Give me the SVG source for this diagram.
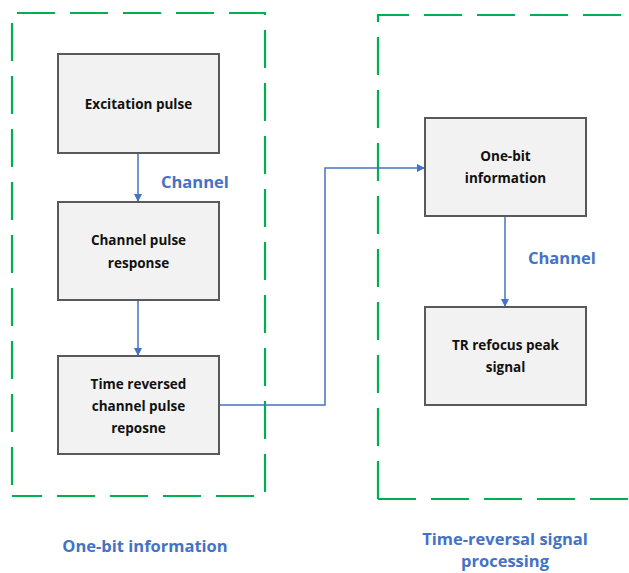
<svg xmlns="http://www.w3.org/2000/svg" width="629" height="573" viewBox="0 0 629 573">
<style>
.grp{fill:none;stroke:#00B050;stroke-width:2.2;stroke-dasharray:38 15}
.node rect{fill:#F2F2F2;stroke:#595959;stroke-width:2}
.node text{font-family:"Open Sans","Liberation Sans",sans-serif;font-weight:bold;font-size:13.5px;fill:#111;text-anchor:middle}
.lbl{font-family:"Open Sans","Liberation Sans",sans-serif;font-weight:bold;font-size:16.5px;fill:#4472C4}
.conn{fill:none;stroke:#4472C4;stroke-width:1.5}
</style>
<defs>
<marker id="ah" viewBox="0 0 10 10" refX="10" refY="5" markerWidth="8" markerHeight="8" markerUnits="userSpaceOnUse" orient="auto">
<path d="M0,0 L10,5 L0,10 z" fill="#4472C4"/>
</marker>
</defs>
<g id="group-left">
<path class="grp" d="M12,485 L12,13 L265,13 L265,496 L12,496"/>
<text class="lbl" x="145" y="552" text-anchor="middle">One-bit information</text>
</g>
<g id="group-right">
<path class="grp" d="M378,499 L378,15 L640,15"/>
<path class="grp" d="M378,499 L640,499"/>
<text class="lbl" x="505" y="545" text-anchor="middle">Time-reversal signal</text>
<text class="lbl" x="505" y="567" text-anchor="middle">processing</text>
</g>
<g id="connectors">
<path class="conn" d="M138,153 L138,202" marker-end="url(#ah)"/>
<path class="conn" d="M138,300 L138,356" marker-end="url(#ah)"/>
<path class="conn" d="M219,405 L325,405 L325,168 L425,168" marker-end="url(#ah)"/>
<path class="conn" d="M505,216 L505,307" marker-end="url(#ah)"/>
<text class="lbl" x="161" y="188">Channel</text>
<text class="lbl" x="528" y="264">Channel</text>
</g>
<g id="n1" class="node">
<rect x="58" y="54" width="161" height="99"/>
<text x="138.5" y="109">Excitation pulse</text>
</g>
<g id="n2" class="node">
<rect x="58" y="202" width="161" height="98"/>
<text x="138.5" y="245">Channel pulse</text>
<text x="138.5" y="268">response</text>
</g>
<g id="n3" class="node">
<rect x="58" y="356" width="161" height="98"/>
<text x="138.5" y="389">Time reversed</text>
<text x="138.5" y="411">channel pulse</text>
<text x="138.5" y="433">reposne</text>
</g>
<g id="n4" class="node">
<rect x="425" y="118" width="161" height="98"/>
<text x="505.5" y="161">One-bit</text>
<text x="505.5" y="183">information</text>
</g>
<g id="n5" class="node">
<rect x="425" y="307" width="161" height="98"/>
<text x="505.5" y="350">TR refocus peak</text>
<text x="505.5" y="372">signal</text>
</g>
</svg>
